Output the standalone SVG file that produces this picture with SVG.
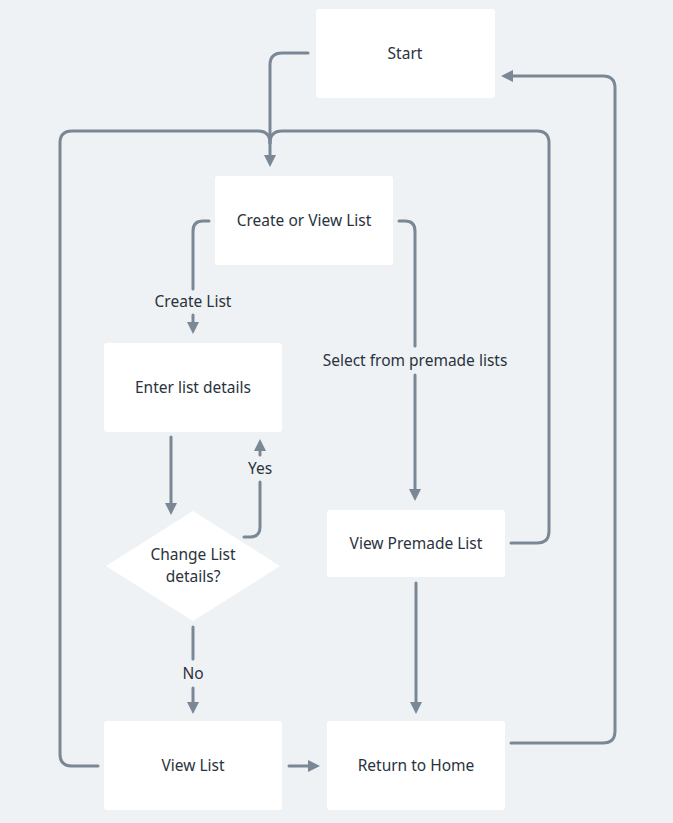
<svg xmlns="http://www.w3.org/2000/svg" width="673" height="823" viewBox="0 0 673 823">
<defs>
<style>
.node{fill:#ffffff}
.lbl{font-family:"Noto Sans","Liberation Sans",sans-serif;font-size:15.5px;fill:#2a333d;text-anchor:middle;dominant-baseline:central}
.edge{fill:none;stroke:#7a8795;stroke-width:3;stroke-linecap:round;stroke-linejoin:round}
.elbl{font-family:"Noto Sans","Liberation Sans",sans-serif;font-size:15.5px;fill:#2a333d;text-anchor:middle;dominant-baseline:central}
</style>
<marker id="ah" viewBox="0 0 10 10" refX="5" refY="5" markerWidth="4" markerHeight="4" orient="auto" markerUnits="strokeWidth">
<path d="M0,0 L10,5 L0,10 Z" fill="#7a8795"/>
</marker>
</defs>
<rect width="673" height="823" fill="#eff2f5"/>
<g id="connectors">
<path class="edge" d="M308,53 H282 Q270,53 270,65 V161" marker-end="url(#ah)"/>
<path class="edge" d="M98,766 H72 Q60,766 60,754 V143 Q60,131 72,131 H258 Q270,131 270,143"/>
<path class="edge" d="M511,543 H537 Q549,543 549,531 V143 Q549,131 537,131 H282 Q270,131 270,143"/>
<path class="edge" d="M209,221 H203 Q193,221 193,231 V289"/>
<path class="edge" d="M193,315 V328" marker-end="url(#ah)"/>
<path class="edge" d="M399,221 H405 Q415,221 415,231 V346"/>
<path class="edge" d="M415,375 V495" marker-end="url(#ah)"/>
<path class="edge" d="M171,437 V509" marker-end="url(#ah)"/>
<path class="edge" d="M244,537 H250 Q260,537 260,527 V482"/>
<path class="edge" d="M260,455 V445" marker-end="url(#ah)"/>
<path class="edge" d="M193,627 V659"/>
<path class="edge" d="M193,688 V708" marker-end="url(#ah)"/>
<path class="edge" d="M289,766 H314" marker-end="url(#ah)"/>
<path class="edge" d="M416,583 V708" marker-end="url(#ah)"/>
<path class="edge" d="M511,743 H603 Q615,743 615,731 V88 Q615,76 603,76 H507" marker-end="url(#ah)"/>
<text class="elbl" x="193" y="301">Create List</text>
<text class="elbl" x="415" y="360">Select from premade lists</text>
<text class="elbl" x="260" y="468">Yes</text>
<text class="elbl" x="193" y="673">No</text>
</g>
<g id="start"><rect class="node" x="316" y="9" width="179" height="89" rx="3"/><text class="lbl" x="405" y="53">Start</text></g>
<g id="create-or-view"><rect class="node" x="215" y="176" width="178" height="89" rx="3"/><text class="lbl" x="304" y="220">Create or View List</text></g>
<g id="enter-details"><rect class="node" x="104" y="343" width="178" height="89" rx="3"/><text class="lbl" x="193" y="387">Enter list details</text></g>
<g id="change-details"><path class="node" d="M193,511 L280,566 L193,621 L106,566 Z"/><text class="lbl" x="193" y="554">Change List</text><text class="lbl" x="193" y="576">details?</text></g>
<g id="view-premade"><rect class="node" x="327" y="510" width="178" height="67" rx="3"/><text class="lbl" x="416" y="543">View Premade List</text></g>
<g id="view-list"><rect class="node" x="104" y="721" width="178" height="89" rx="3"/><text class="lbl" x="193" y="765">View List</text></g>
<g id="return-home"><rect class="node" x="327" y="721" width="178" height="89" rx="3"/><text class="lbl" x="416" y="765">Return to Home</text></g>
</svg>
